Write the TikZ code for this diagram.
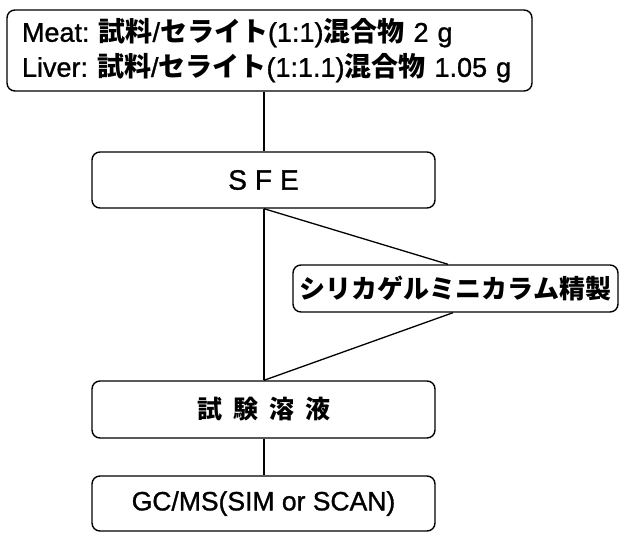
\documentclass[tikz,border=0pt]{standalone}
\usepackage{fontspec}
\setmainfont{Liberation Sans}[FakeBold=1.1]
\newfontfamily\jp{Noto Sans CJK JP}
\begin{document}
\begin{tikzpicture}[x=1pt,y=-1pt,
  box/.style={draw,line width=1.4pt,rounded corners=8pt,inner sep=0pt,fill=white},
  conn/.style={line width=1.3pt}]
\useasboundingbox (0,0) rectangle (622,533);
\node[box,minimum width=525pt,minimum height=81pt,text width=495pt,align=left,
  font=\fontsize{27}{35}\selectfont] (top) at (269.5,50.5)
  {Meat:\ {\jp\bfseries 試料}/{\jp\bfseries セライト}(1:1){\jp\bfseries 混合物} 2 g\\
   Liver:\ {\jp\bfseries 試料}/{\jp\bfseries セライト}(1:1.1){\jp\bfseries 混合物} 1.05 g};
\node[box,minimum width=343pt,minimum height=56pt,font=\fontsize{28}{30}\selectfont] (sfe) at (263.5,180)
  {S\hspace{8pt}F\hspace{8pt}E};
\node[box,minimum width=325pt,minimum height=47pt,font=\fontsize{26}{30}\selectfont\jp\bfseries] (silica) at (455.5,288.5)
  {シリカゲルミニカラム精製};
\node[box,minimum width=343pt,minimum height=57pt,font=\fontsize{25}{30}\selectfont\jp\bfseries] (test) at (263.5,409.5)
  {試\hspace{11pt}験\hspace{11pt}溶\hspace{11pt}液};
\node[box,minimum width=343pt,minimum height=55pt,font=\fontsize{26.5}{30}\selectfont] (gc) at (263.5,503.5)
  {GC/MS(SIM or SCAN)};
\coordinate (lx) at (264,0);
\coordinate (d1) at (448,0);
\coordinate (d2) at (453,0);
\draw[conn] (top.south -| lx) -- (sfe.north -| lx);
\draw[conn] (sfe.south -| lx) -- (test.north -| lx);
\draw[conn] (test.south -| lx) -- (gc.north -| lx);
\draw[conn] (sfe.south -| lx) -- (silica.north -| d1);
\draw[conn] (silica.south -| d2) -- (test.north -| lx);
\end{tikzpicture}
\end{document}
